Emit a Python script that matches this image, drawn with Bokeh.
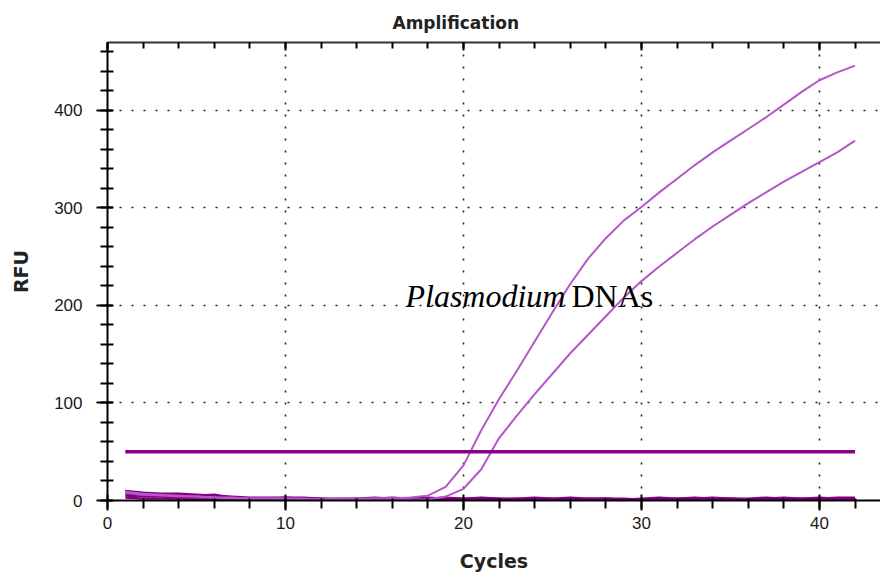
from bokeh.plotting import figure
from bokeh.models import LinearAxis, SingleIntervalTicker, Label, Range1d, CustomJSTickFormatter
from bokeh.embed import file_html
from bokeh.resources import INLINE

cycles = list(range(1, 43))

sample_a = [8, 6, 5, 4, 4, 3, 2, 2, 2, 2, 1, 1, 2, 2, 2, 2, 3, 5, 14, 36,
            72, 104, 133, 163, 193, 222, 248, 269, 287, 301, 316, 330, 344, 357, 369, 381,
            393, 406, 419, 431, 439, 446]
sample_b = [9, 7, 6, 5, 4, 3, 3, 2, 2, 2, 2, 1, 1, 1, 2, 2, 1, 1, 4, 12,
            32, 64, 87, 109, 130, 151, 170, 189, 208, 225, 240, 254, 268, 281, 293, 305,
            316, 327, 337, 347, 357, 369]

neg_1 = [10, 8, 7, 7, 6, 5, 4, 3, 3, 3, 3, 2, 2, 2, 2, 3, 2, 2, 3, 2,
         2, 2, 1, 2, 2, 3, 2, 2, 2, 1, 2, 2, 3, 2, 2, 2, 3, 2, 2, 3, 2, 2]
neg_2 = [7, 6, 5, 6, 5, 6, 3, 2, 2, 3, 2, 2, 1, 2, 3, 2, 2, 3, 2, 2,
         3, 2, 2, 3, 2, 1, 2, 2, 1, 2, 3, 2, 2, 3, 2, 1, 2, 3, 2, 2, 3, 3]
neg_3 = [5, 4, 4, 3, 3, 3, 2, 1, 1, 2, 1, 1, 1, 1, 1, 1, 2, 1, 1, 1,
         1, 1, 2, 1, 1, 1, 1, 2, 1, 1, 1, 1, 1, 1, 2, 1, 1, 1, 1, 2, 1, 1]
neg_4 = [3, 2, 2, 2, 1, 1, 1, 0, 0, 1, 0, 0, 0, 1, 0, 0, 0, 0, 1, 0,
         0, 0, 0, 0, 1, 0, 0, 0, 0, 0, 0, 1, 0, 0, 0, 0, 0, 0, 1, 0, 0, 0]

threshold = 50
x_ticks_major = 10
y_ticks_major = 100

p = figure(width=880, height=578, output_backend="svg", toolbar_location=None,
           x_range=Range1d(0, 43.43), y_range=Range1d(0, 469.7),
           min_border_left=107, min_border_right=0, min_border_top=42, min_border_bottom=78,
           x_axis_label="Cycles", y_axis_label="RFU")
p.outline_line_color = None
p.background_fill_color = "white"
p.border_fill_color = "white"

p.title.text = "Amplification"
p.title.align = "left"
p.title.offset = 285
p.title.standoff = 20
p.title.text_font = "DejaVu Sans"
p.title.text_font_size = "17px"
p.title.text_font_style = "bold"
p.title.text_color = "#222222"

xt = SingleIntervalTicker(interval=x_ticks_major, num_minor_ticks=5)
yt = SingleIntervalTicker(interval=y_ticks_major, num_minor_ticks=5)
p.xaxis.ticker = xt
p.yaxis.ticker = yt

for ax in (p.xaxis[0], p.yaxis[0]):
    ax.axis_line_color = "black"
    ax.axis_line_width = 2
    ax.major_tick_line_color = "black"
    ax.major_tick_line_width = 2
    ax.minor_tick_line_color = "black"
    ax.minor_tick_line_width = 2
    ax.major_label_text_font = "Liberation Sans"
    ax.major_label_text_font_size = "17px"
    ax.major_label_text_color = "#1a1a1a"
    ax.axis_label_text_font = "DejaVu Sans"
    ax.axis_label_text_font_size = "19px"
    ax.axis_label_text_font_style = "bold"
    ax.axis_label_text_color = "#222222"

p.xaxis.major_tick_out = 10
p.xaxis.major_tick_in = 6
p.xaxis.minor_tick_out = 8
p.xaxis.minor_tick_in = 2
p.xaxis.major_label_standoff = 6
p.xaxis.axis_label_standoff = 18

p.yaxis.major_tick_out = 11
p.yaxis.major_tick_in = 5
p.yaxis.minor_tick_out = 7
p.yaxis.minor_tick_in = 6
p.yaxis.major_label_standoff = 14
p.yaxis.axis_label_standoff = 19

top = LinearAxis(ticker=SingleIntervalTicker(interval=x_ticks_major, num_minor_ticks=5),
                 formatter=CustomJSTickFormatter(code="return ''"))
top.axis_line_color = "#333333"
top.axis_line_width = 2
top.major_tick_in = 8
top.major_tick_out = 0
top.minor_tick_in = 6
top.minor_tick_out = 0
top.major_tick_line_width = 2
top.minor_tick_line_width = 2
top.major_label_standoff = 0
p.add_layout(top, "above")

for g in (p.xgrid[0], p.ygrid[0]):
    g.grid_line_color = "#222222"
    g.grid_line_width = 1.6
    g.grid_line_dash = "2 10"

purple_dark = "#800080"
purple_light = "#b556c9"

for tr in (neg_1, neg_2, neg_3, neg_4):
    p.line(cycles, tr, line_color=purple_dark, line_width=2.2)

p.line(cycles, sample_a, line_color=purple_light, line_width=2)
p.line(cycles, sample_b, line_color=purple_light, line_width=2)

p.line([cycles[0], cycles[-1]], [threshold, threshold], line_color="#880088", line_width=3.5)

lab1 = Label(x=16.74, y=210, text="Plasmodium", text_font="Liberation Serif",
             text_font_style="italic", text_font_size="32px", text_color="black",
             text_baseline="alphabetic", text_align="left")
lab2 = Label(x=26.07, y=210, text="DNAs", text_font="Liberation Serif",
             text_font_size="32px", text_color="black",
             text_baseline="alphabetic", text_align="left")
p.add_layout(lab1)
p.add_layout(lab2)

open("out.html", "w").write(file_html(p, INLINE))
